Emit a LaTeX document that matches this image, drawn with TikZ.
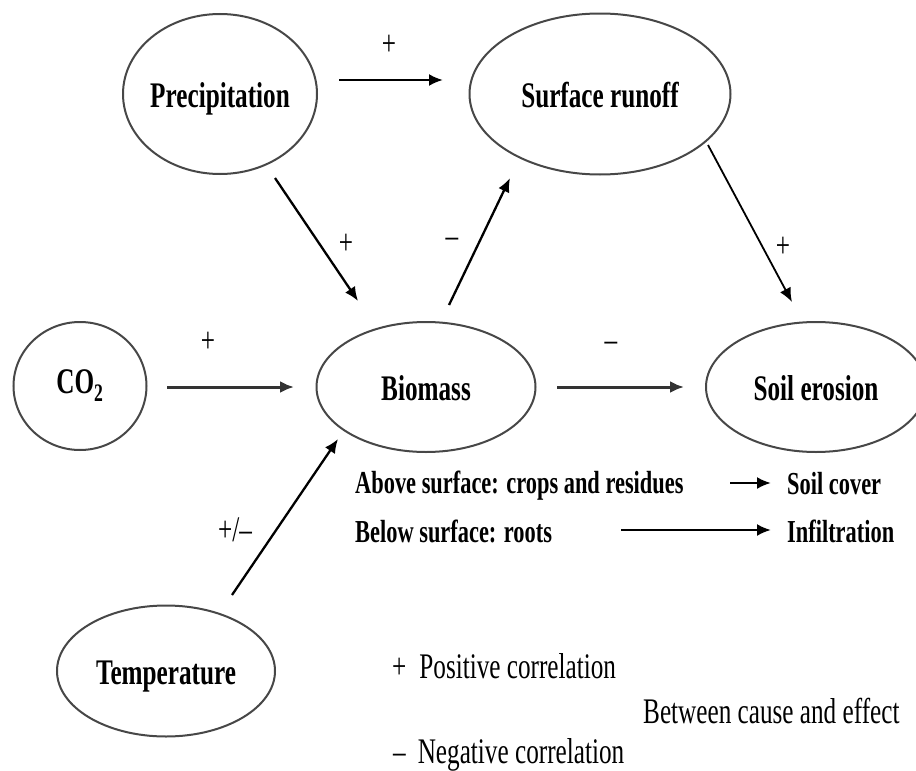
\documentclass[tikz,border=0pt]{standalone}
\usepackage{fontspec}
\setmainfont{Liberation Serif}
\newfontfamily\cond[FakeStretch=0.7]{Liberation Serif}
\usetikzlibrary{arrows.meta,shapes.geometric}
\begin{document}
\begin{tikzpicture}[x=1pt,y=-1pt,
  ell/.style={ellipse, draw=black!72, line width=2pt, inner sep=0pt,
    font=\cond\bfseries\fontsize{36}{40}\selectfont, text height=26pt, text depth=0pt},
  arr/.style={line width=2.3pt, -{Latex[length=14pt,width=12pt]}},
  lbl/.style={font=\cond\fontsize{36}{40}\selectfont, inner sep=0pt},
  subtxt/.style={font=\cond\bfseries\fontsize{32}{36}\selectfont, inner sep=0pt, anchor=base west},
  leg/.style={font=\cond\fontsize{36}{40}\selectfont, inner sep=0pt, anchor=base west}]
\useasboundingbox (0,0) rectangle (916,771);
% ellipses
\node[ell, inner xsep=-2pt, minimum width=194pt, minimum height=160pt] (prec) at (220,94) {Precipitation};
\node[ell, minimum width=261pt, minimum height=161pt] (surf) at (600,94) {Surface runoff};
\node[ell, minimum width=133pt, minimum height=128pt, text depth=12pt] (co2) at (80,386) {CO\textsubscript{2}};
\node[ell, minimum width=219pt, minimum height=130pt] (bio) at (426,387) {Biomass};
\node[ell, minimum width=220pt, minimum height=130pt] (soil) at (816,387) {Soil erosion};
\node[ell, minimum width=218pt, minimum height=131pt] (temp) at (166,671) {Temperature};
% text below biomass
\node[subtxt] (above) at (355,493) {Above surface: crops and residues};
\node[subtxt] (below) at (355,542) {Below surface: roots};
\node[subtxt] (cover) at (787,494) {Soil cover};
\node[subtxt] (infil) at (787,542) {Infiltration};
% arrow end points
\coordinate (p2s0) at (339,80);  \coordinate (p2s1) at (443,80);
\coordinate (p2b0) at (275,178); \coordinate (p2b1) at (358,301);
\coordinate (b2s0) at (449,305); \coordinate (b2s1) at (510,178);
\coordinate (s2e0) at (708,145); \coordinate (s2e1) at (792,302);
\coordinate (c2b0) at (167,387); \coordinate (c2b1) at (294,387);
\coordinate (b2e0) at (557,387); \coordinate (b2e1) at (684,387);
\coordinate (t2b0) at (232,595); \coordinate (t2b1) at (338,439);
\coordinate (a2c0) at (730,483); \coordinate (a2c1) at (771,483);
\coordinate (b2i0) at (621,530); \coordinate (b2i1) at (771,530);
\draw[arr] (p2s0) -- (p2s1);
\draw[arr] (p2b0) -- (p2b1);
\draw[arr] (b2s0) -- (b2s1);
\draw[arr, line width=1.8pt] (s2e0) -- (s2e1);
\draw[arr, line width=3pt, draw=black!80] (c2b0) -- (c2b1);
\draw[arr, line width=3pt, draw=black!80] (b2e0) -- (b2e1);
\draw[arr] (t2b0) -- (t2b1);
\draw[arr] (a2c0) -- (a2c1);
\draw[arr] (b2i0) -- (b2i1);
% sign labels
\node[lbl] (l1) at (389,45) {+};
\node[lbl] (l2) at (346,244) {+};
\node[lbl] (l3) at (452,243) {–};
\node[lbl] (l4) at (783,247) {+};
\node[lbl] (l5) at (208,342) {+};
\node[lbl] (l6) at (611,347) {–};
\node[lbl] (l7) at (235,530) {+/–};
% legend
\node[leg] (pos) at (392,678) {+\hspace{13pt}Positive correlation};
\node[leg] (neg) at (393,763) {–\hspace{12pt}Negative correlation};
\node[leg] (btw) at (643,723) {Between cause and effect};
\end{tikzpicture}
\end{document}
